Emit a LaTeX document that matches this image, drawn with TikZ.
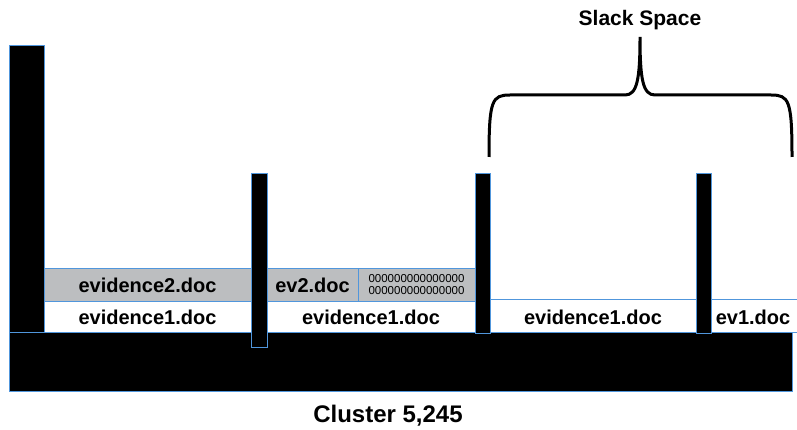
\documentclass[tikz,border=0pt]{standalone}
\usepackage{fontspec}
\setmainfont{Liberation Sans}
\usepackage{xcolor}
\usepackage{tikz}
\usetikzlibrary{calc}

\definecolor{edgeblue}{RGB}{80,150,220}
\definecolor{slotgray}{RGB}{188,190,192}

\tikzset{
	sector/.style={draw=edgeblue,line width=0.9pt,fill=black},
	filerow/.style={draw=edgeblue,line width=0.9pt,fill=white},
	leftover/.style={draw=edgeblue,line width=0.9pt,fill=slotgray},
	lbl/.style={font=\fontsize{20}{20}\selectfont\bfseries,inner sep=0pt},
}

\begin{document}
\begin{tikzpicture}[x=1pt,y=-1pt]

\useasboundingbox (0,0) rectangle (797,430);

\draw[filerow] (44,301) rectangle (251,332);
\draw[leftover] (44,268) rectangle (251,301);
\draw[filerow] (267,301) rectangle (475,332);
\draw[leftover] (267,268) rectangle (358,301);
\draw[leftover] (358,268) rectangle (475,301);
\draw[filerow] (490,299) rectangle (696,332);
\draw[filerow] (711,299) rectangle (800,332);

\draw[sector] (9,332) rectangle (792,391);
\draw[sector] (9,45) rectangle (44,332);
\fill[black] (251,173) rectangle (267,347);
\draw[edgeblue,line width=0.9pt] (251,173) rectangle (267,347);
\foreach \x in {475,696}
{
	\draw[sector] (\x,173) rectangle (\x+15,333);
}

\node[lbl] (ev2a) at (147.5,285) {evidence2.doc};
\node[lbl] (ev1a) at (147.5,317) {evidence1.doc};
\node[lbl] (ev2b) at (312.5,285) {ev2.doc};
\node[inner sep=0pt,align=center,font=\fontsize{11.5}{12}\selectfont] (zeros) at (416.5,285) {000000000000000\\000000000000000};
\node[lbl] (ev1b) at (371,317) {evidence1.doc};
\node[lbl] (ev1c) at (593,317) {evidence1.doc};
\node[lbl] (ev1d) at (753,317) {ev1.doc};

\draw[line width=3pt] (489,157) .. controls (489,100) and (492,95) .. (510,95) -- (625,95) .. controls (637,95) and (640,80) .. (640,37)
	.. controls (640,80) and (643,95) .. (655,95) -- (771,95) .. controls (789,95) and (792,100) .. (792,157);
\node[font=\fontsize{21}{21}\selectfont\bfseries] (slack) at (640,20) {Slack Space};

\node[font=\fontsize{24}{24}\selectfont\bfseries] (cluster) at (388,416) {Cluster 5,245};

\end{tikzpicture}
\end{document}
